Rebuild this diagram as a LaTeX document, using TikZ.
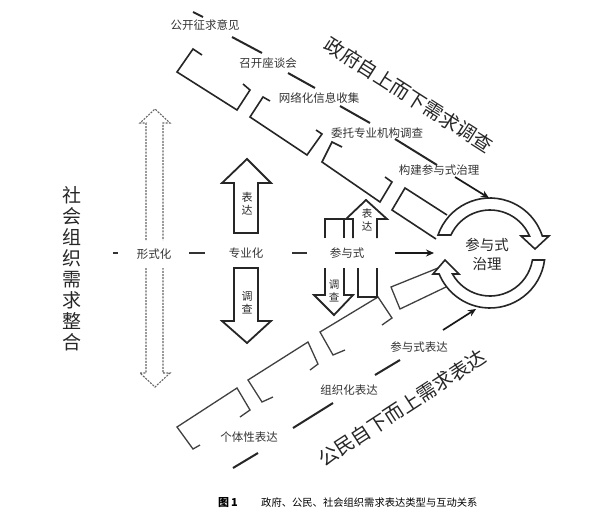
\documentclass[tikz,border=0pt]{standalone}
\usepackage{fontspec}
\setmainfont{Noto Sans CJK SC}
\usetikzlibrary{calc,arrows.meta}
\begin{document}
\begin{tikzpicture}[x=1pt,y=1pt,
  brk/.style={line width=1.6pt, black!85, line join=miter},
  lbrk/.style={line width=1.3pt, black!75, line join=miter},
  sep/.style={line width=2pt, black!85},
  lbl/.style={font=\fontsize{11.5}{12}\selectfont, inner sep=1pt, text=black!80},
  vlbl/.style={font=\fontsize{11}{13}\selectfont, inner sep=0pt, align=center, text=black!85},
  blk/.style={line width=1.8pt, black!85, line join=miter},
  ttl/.style={font=\fontsize{19.5}{20}\selectfont, inner sep=0pt, text=black!85},
  band/.style={line width=1.6pt, black!85, fill=white, line join=miter},
  dsh/.style={line width=1.1pt, black!60, dash pattern=on 2pt off 1.2pt},
  sarr/.style={line width=1.7pt, black!90, -{Stealth[length=8pt,width=7pt]}},
  dashmark/.style={line width=1.8pt, black!80}]
\useasboundingbox (0,0) rectangle (592,-520);

% ---- upper staircase ----
\draw[brk] (202,-55) -- (193,-49) -- (177,-72) -- (237,-110) -- (250,-90) -- (243,-84);
\draw[brk] (270,-101) -- (263,-97) -- (250,-117) -- (307,-155) -- (322,-134) -- (316,-130);
\draw[brk] (342,-147) -- (332,-142) -- (322,-162) -- (380,-202) -- (392,-182) -- (385,-177);
\draw[brk] (447,-215) -- (405,-188) -- (392,-210) -- (436,-239);

\draw[sep] (193,-12) -- (203,-17);
\draw[sep] (232,-37) -- (262,-53);
\draw[sep] (288,-73) -- (315,-88);
\draw[sep] (340,-106) -- (370,-123);
\draw[sep] (395,-139) -- (437,-165);

% ---- lower staircase ----
\draw[lbrk] (200,-445) -- (193,-449) -- (177,-427) -- (237,-388) -- (250,-410) -- (240,-417);
\draw[lbrk] (273,-397) -- (262,-402) -- (248,-380) -- (308,-342) -- (318,-364) -- (310,-370);
\draw[lbrk] (345,-350) -- (333,-355) -- (320,-332) -- (378,-297) -- (392,-318) -- (382,-325);
\draw[lbrk] (443,-266) -- (391,-287) -- (400,-309) -- (446,-287);

\draw[sep] (233,-468) -- (258,-453);
\draw[sep] (293,-428) -- (333,-403);
\draw[sep] (375,-375) -- (400,-360);

% ---- circle with two curved block arrows ----
\coordinate (C) at (490,-253);
\draw[band] ($(C)+(160.9:55)$) arc[start angle=160.9,end angle=18,radius=55]
  -- ($(C)+(59,17)$) -- ($(C)+(45,4)$) -- ($(C)+(31,17)$)
  -- ($(C)+(23.3:43)$) arc[start angle=23.3,end angle=155.3,radius=43] -- cycle;
\draw[band] ($(C)+(-7.3:55)$) arc[start angle=-7.3,end angle=-157.6,radius=55]
  -- ($(C)+(-57,-21)$) -- ($(C)+(-45,-7)$) -- ($(C)+(-31,-21)$)
  -- ($(C)+(-150.8:43)$) arc[start angle=-150.8,end angle=-9.4,radius=43] -- cycle;
\node[font=\fontsize{14.5}{19}\selectfont, align=center, inner sep=0pt, text=black!85] (gov2) at (487,-254) {参与式\\治理};

% arrows onto circle
\coordinate (ga) at (455,-177);
\coordinate (gb) at (489,-198);
\coordinate (ca) at (443,-330);
\coordinate (cb) at (476,-309);
\coordinate (pa) at (395,-253);
\coordinate (pb) at (434,-253);
\draw[sarr] (ga) -- (gb);
\draw[sarr] (ca) -- (cb);
\draw[sarr] (pa) -- (pb);

% ---- dashed double arrow ----
\draw[dsh] (146,-240) -- (146,-123) -- (140,-123) -- (155,-109) -- (170,-123) -- (163,-123) -- (163,-240);
\draw[dsh] (146,-268) -- (146,-373) -- (140,-373) -- (155,-387) -- (170,-373) -- (163,-373) -- (163,-268);

% ---- middle row ----
\node[lbl] (f1) at (154,-254) {形式化};
\node[lbl] (f2) at (246,-253) {专业化};
\node[lbl] (f3) at (347,-253) {参与式};
\draw[dashmark] (113,-253) -- (118,-253);
\draw[dashmark] (189,-253) -- (205,-253);
\draw[dashmark] (292,-253) -- (307,-253);

% big block arrows
\draw[blk] (234,-233) -- (234,-183) -- (222,-183) -- (247,-159) -- (271,-183) -- (258,-183) -- (258,-233) -- cycle;
\draw[blk] (234,-268) -- (234,-321) -- (222,-321) -- (247,-343) -- (271,-321) -- (258,-321) -- (258,-268) -- cycle;
\node[vlbl] (e1) at (247,-204) {表\\达};
\node[vlbl] (s1) at (247,-303) {调\\查};

% small block arrows
\draw[blk] (353,-238) -- (353,-219) -- (346,-219) -- (366,-200) -- (387,-219) -- (377,-219) -- (377,-238);
\draw[blk] (325,-238) -- (325,-219) -- (344,-219) -- (344,-238);
\draw[blk] (325,-268) -- (325,-295) -- (314,-295) -- (334,-315) -- (353,-295) -- (344,-295) -- (344,-268);
\draw[blk] (358,-268) -- (358,-297) -- (377,-297) -- (377,-268);
\node[vlbl, font=\fontsize{10.5}{13}\selectfont] (e2) at (367,-220) {表\\达};
\node[vlbl, font=\fontsize{10.5}{12.5}\selectfont] (s2) at (334,-291) {调\\查};

% ---- labels ----
\node[lbl] (u1) at (205,-25) {公开征求意见};
\node[lbl] (u2) at (268,-63) {召开座谈会};
\node[lbl] (u3) at (319,-98) {网络化信息收集};
\node[lbl] (u4) at (377,-133) {委托专业机构调查};
\node[lbl] (u5) at (439,-170) {构建参与式治理};
\node[lbl] (l1) at (249,-437) {个体性表达};
\node[lbl] (l2) at (349,-390) {组织化表达};
\node[lbl] (l3) at (419,-347) {参与式表达};

\node[ttl, rotate=-32.5] (gov) at (409,-95) {政府自上而下需求调查};
\node[ttl, rotate=33] (cit) at (402,-408) {公民自下而上需求表达};
\node[font=\fontsize{19}{21}\selectfont, align=center, inner sep=0pt, text=black!85] (soc) at (72,-268.5) {社\\会\\组\\织\\需\\求\\整\\合};

% ---- caption ----
\node[anchor=west, inner sep=0pt, font=\fontsize{11}{12}\selectfont] (capn) at (218,-503) {{\bfseries 图\,1}};
\node[anchor=west, inner sep=0pt, font=\fontsize{10.3}{12}\selectfont] (cap) at (261,-503) {政府、公民、社会组织需求表达类型与互动关系};
\end{tikzpicture}
\end{document}
